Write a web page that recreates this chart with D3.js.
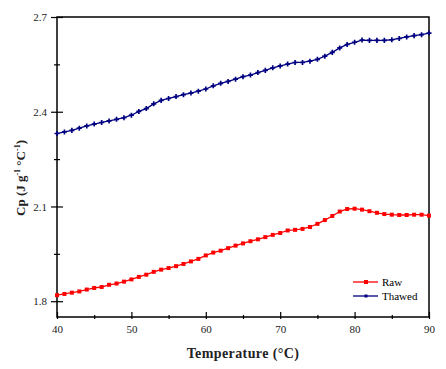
<!DOCTYPE html>
<html>
<head>
<meta charset="utf-8">
<script src="https://cdn.jsdelivr.net/npm/d3@7"></script>
<style>
  body { margin: 0; background: #fff; }
  svg { display: block; }
  text { font-family: "Liberation Serif", "Times New Roman", serif; }
</style>
</head>
<body>
<div id="chart"></div>
<script>
const width = 446, height = 369;
const margin = { top: 17, right: 17, bottom: 52, left: 57 };
const innerWidth = width - margin.left - margin.right;
const innerHeight = height - margin.top - margin.bottom;

// Data (temperature in °C, Cp in J g-1 °C-1)
const temperature = d3.range(40, 91);
const rawCp = [
    1.819, 1.823, 1.827, 1.831, 1.837, 1.842, 1.845, 1.852, 1.856, 1.862,
    1.869, 1.877, 1.884, 1.893, 1.900, 1.905, 1.911, 1.918, 1.926, 1.934,
    1.945, 1.954, 1.960, 1.968, 1.976, 1.983, 1.990, 1.996, 2.003, 2.010,
    2.016, 2.024, 2.026, 2.029, 2.035, 2.045, 2.057, 2.070, 2.084, 2.092,
    2.093, 2.090, 2.085, 2.080, 2.076, 2.074, 2.073, 2.073, 2.074, 2.074,
    2.071
];
const thawedCp = [
    2.331, 2.336, 2.341, 2.348, 2.355, 2.361, 2.366, 2.371, 2.376, 2.381,
    2.389, 2.401, 2.410, 2.425, 2.436, 2.442, 2.448, 2.454, 2.459, 2.465,
    2.472, 2.482, 2.490, 2.496, 2.503, 2.511, 2.516, 2.524, 2.531, 2.539,
    2.545, 2.551, 2.556, 2.556, 2.560, 2.566, 2.576, 2.588, 2.602, 2.613,
    2.620, 2.627, 2.626, 2.626, 2.626, 2.628, 2.632, 2.637, 2.641, 2.644,
    2.649
];
const xTicks = [40, 50, 60, 70, 80, 90];
const xMinorTicks = [45, 55, 65, 75, 85];
const yTicks = [1.8, 2.1, 2.4, 2.7];
const yMinorTicks = [1.95, 2.25, 2.55];
const seriesNames = ["Raw", "Thawed"];
const seriesColors = ["#ff0000", "#000080"];

const svg = d3.select("#chart")
    .append("svg")
    .attr("width", width)
    .attr("height", height);

const g = svg.append("g")
    .attr("transform", `translate(${margin.left},${margin.top})`);

const x = d3.scaleLinear().domain([40, 90]).range([0, innerWidth]);
const y = d3.scaleLinear().domain([1.75, 2.7]).range([innerHeight, 0]);

// Frame
g.append("rect")
    .attr("width", innerWidth)
    .attr("height", innerHeight)
    .attr("fill", "none")
    .attr("stroke", "#000")
    .attr("stroke-width", 1.5);

const styleAxis = (sel) => {
    sel.select(".domain").remove();
    sel.selectAll("line").attr("stroke", "#000").attr("stroke-width", 1.2);
    sel.selectAll("text")
        .filter(function () { return this.textContent === ""; })
        .remove();
    sel.selectAll("text")
        .style("font-family", "'Liberation Serif', 'Times New Roman', serif")
        .style("font-size", "11px")
        .style("fill", "#222");
};

// X axis: labels + outer part of ticks, then inner tick parts
g.append("g")
    .attr("transform", `translate(0,${innerHeight})`)
    .call(d3.axisBottom(x).tickValues(xTicks).tickSize(2).tickPadding(6).tickFormat(d3.format("d")))
    .call(styleAxis);
g.append("g")
    .attr("transform", `translate(0,${innerHeight})`)
    .call(d3.axisBottom(x).tickValues(xTicks).tickSize(-5).tickFormat(""))
    .call(styleAxis);
g.append("g")
    .attr("transform", `translate(0,${innerHeight})`)
    .call(d3.axisBottom(x).tickValues(xMinorTicks).tickSize(-2).tickFormat(""))
    .call(styleAxis);
g.append("g")
    .attr("transform", `translate(0,${innerHeight})`)
    .call(d3.axisBottom(x).tickValues(xMinorTicks).tickSize(2).tickFormat(""))
    .call(styleAxis);

// Y axis
g.append("g")
    .call(d3.axisLeft(y).tickValues(yTicks).tickSize(6).tickPadding(4).tickFormat(d3.format(".1f")))
    .call(styleAxis);
g.append("g")
    .call(d3.axisLeft(y).tickValues(yTicks).tickSize(-6).tickFormat(""))
    .call(styleAxis);
g.append("g")
    .call(d3.axisLeft(y).tickValues(yMinorTicks).tickSize(3).tickFormat(""))
    .call(styleAxis);
g.append("g")
    .call(d3.axisLeft(y).tickValues(yMinorTicks).tickSize(-3).tickFormat(""))
    .call(styleAxis);

// Lines and markers
const line = d3.line()
    .x((d, i) => x(temperature[i]))
    .y(d => y(d));

const drawSeries = (values, color, marker) => {
    g.append("path")
        .datum(values)
        .attr("fill", "none")
        .attr("stroke", color)
        .attr("stroke-width", 1.3)
        .attr("d", line);
    g.append("g")
        .selectAll("path")
        .data(values)
        .join("path")
        .attr("transform", (d, i) => `translate(${x(temperature[i])},${y(d)})`)
        .attr("d", marker)
        .attr("fill", color);
};

const squareMarker = d3.symbol().type(d3.symbolSquare).size(16)();
const crossMarker = d3.symbol().type(d3.symbolCross).size(14)();

drawSeries(rawCp, seriesColors[0], squareMarker);
drawSeries(thawedCp, seriesColors[1], crossMarker);

// Legend
const legend = g.append("g")
    .attr("transform", `translate(${353 - margin.left}, ${282 - margin.top})`);
seriesNames.forEach((name, i) => {
    const item = legend.append("g").attr("transform", `translate(0, ${i * 14})`);
    item.append("line")
        .attr("x1", 0).attr("x2", 25)
        .attr("stroke", seriesColors[i])
        .attr("stroke-width", 1.3);
    item.append("path")
        .attr("transform", "translate(13,0)")
        .attr("d", i === 0 ? squareMarker : d3.symbol().type(d3.symbolSquare).size(9)())
        .attr("fill", seriesColors[i]);
    item.append("text")
        .attr("x", 29)
        .attr("y", 4)
        .style("font-size", "11px")
        .style("fill", "#000")
        .text(name);
});

// Axis titles
svg.append("text")
    .attr("x", 243)
    .attr("y", 358)
    .attr("text-anchor", "middle")
    .style("font-size", "14px")
    .style("font-weight", "bold")
    .style("letter-spacing", "0.4px")
    .style("fill", "#222")
    .text("Temperature (°C)");

const yTitle = svg.append("text")
    .attr("transform", "translate(25, 178) rotate(-90)")
    .attr("text-anchor", "middle")
    .style("font-size", "13px")
    .style("font-weight", "bold")
    .style("fill", "#222");
yTitle.append("tspan").text("Cp (J g");
yTitle.append("tspan").attr("dy", -5).style("font-size", "8px").text("-1");
yTitle.append("tspan").attr("dy", 5).text(" °C");
yTitle.append("tspan").attr("dy", -5).style("font-size", "8px").text("-1");
yTitle.append("tspan").attr("dy", 5).text(")");
</script>
</body>
</html>
